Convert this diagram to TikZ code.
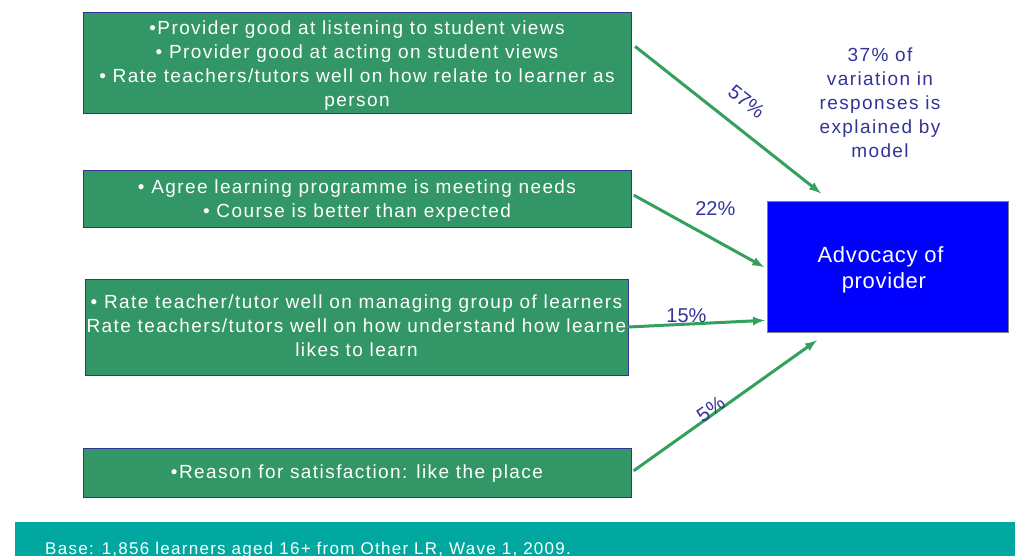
\documentclass[tikz,border=0pt]{standalone}
\usepackage{fontspec}
\setmainfont{Liberation Sans}
\newfontfamily\spacedfont[LetterSpace=7.5]{Liberation Sans}
\newfontfamily\lightspacedfont[LetterSpace=3]{Liberation Sans}
\newcommand\lowered[2]{\raisebox{-#1}[\height][\depth]{#2}}
\definecolor{boxgreen}{RGB}{51,150,102}
\definecolor{arrowgreen}{RGB}{51,160,92}
\definecolor{labelblue}{RGB}{51,51,153}
\definecolor{bandteal}{RGB}{0,168,160}
\tikzset{
  factor/.style={draw=labelblue,fill=boxgreen,text=white,align=center,
    font=\spacedfont\fontsize{19}{24}\selectfont,inner sep=0pt},
  pct/.style={text=labelblue,font=\fontsize{20}{24}\selectfont,inner sep=1pt}
}
\begin{document}
\begin{tikzpicture}[x=1pt,y=-1pt,->,>=latex]
\useasboundingbox (0,0) rectangle (1015,556);
\node(1)[factor,minimum width=548pt,minimum height=101pt] at (357,62.5)
  {\lowered{3pt}{\begin{tabular}{@{}c@{}}•Provider good at listening to student views\\ • Provider good at acting on student views\\
   • Rate teachers/tutors well on how relate to learner as\\ person\end{tabular}}};
\node(2)[factor,minimum width=548pt,minimum height=57pt] at (357,198.5)
  {\lowered{2pt}{\begin{tabular}{@{}c@{}}• Agree learning programme is meeting needs\\ • Course is better than expected\end{tabular}}};
\node(3)[factor,minimum width=543pt,minimum height=96pt] at (356.5,327)
  {\lowered{1pt}{\begin{tabular}{@{}c@{}}• Rate teacher/tutor well on managing group of learners\\
   Rate teachers/tutors well on how understand how learne\\ likes to learn\end{tabular}}};
\node(4)[factor,minimum width=548pt,minimum height=49pt] at (357,472.5)
  {\lowered{1pt}{•Reason for satisfaction: like the place}};
\node(5)[draw=gray,fill=blue,text=white,align=center,font=\lightspacedfont\fontsize{22}{26}\selectfont,
  minimum width=241pt,minimum height=131pt] at (887.5,266.5)
  {\lowered{4pt}{\begin{tabular}{@{}c@{}}Advocacy of\\ \ provider\end{tabular}}\hspace{14pt}};
\node(note)[pct,align=center,font=\spacedfont\fontsize{19}{24}\selectfont] at (880,103)
  {37\% of\\ variation in\\ responses is\\ explained by\\ model};

\path[arrowgreen,line width=3pt] (1.4) edge [shorten <=5pt,shorten >=12pt]
  node[pct,sloped,above=16pt,pos=0.5] {57\%} (5.131);
\path[arrowgreen,line width=3pt] (2.1) edge [shorten <=3pt,shorten >=3pt]
  node[pct,pos=0.62,above=22pt] {22\%} (5.181);
\path[arrowgreen,line width=3pt] (3.east) edge [shorten >=2pt]
  node[pct,pos=0.42,above=-1pt] {15\%} (5.204);
\path[arrowgreen,line width=3pt] (4.east) edge [shorten <=3pt,shorten >=14pt]
  node[pct,sloped,above=-4pt,pos=0.42] {5\%} (5.228);

\fill[bandteal] (15,522) rectangle (1015,556);
\node(base)[anchor=base west,text=white,font=\spacedfont\fontsize{17}{18}\selectfont,inner sep=0pt]
  at (45,554) {Base: 1,856 learners aged 16+ from Other LR, Wave 1, 2009.};
\end{tikzpicture}
\end{document}
